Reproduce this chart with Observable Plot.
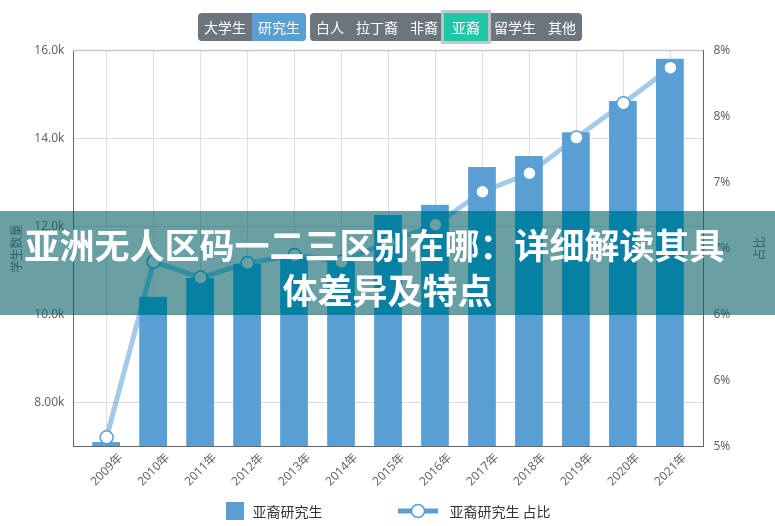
<!DOCTYPE html>
<html>
<head>
<meta charset="utf-8">
<script src="https://cdn.jsdelivr.net/npm/d3@7"></script>
<script src="https://cdn.jsdelivr.net/npm/@observablehq/plot@0.6"></script>
<style>
  html, body { margin: 0; padding: 0; background: #fff; }
  #wrap { position: relative; width: 775px; height: 526px; overflow: hidden; font-family: "Noto Sans CJK SC", "Noto Sans", sans-serif; }
  #buttons { height: 40px; position: relative; display: flex; justify-content: center; align-items: flex-start; gap: 4px; padding-top: 13px; box-sizing: border-box; padding-left: 5px; }
  .grp { display: flex; background: #6c757d; border-radius: 4px; height: 28px; }
  .btn { color: #fff; font-size: 14px; line-height: 28px; padding: 0 6px; white-space: nowrap; }
  .grp .btn:first-child { border-radius: 4px 0 0 4px; }
  .grp .btn:last-child { border-radius: 0 4px 4px 0; }
  .btn.blue { background: #5a9fd4; }
  .btn.teal { background: #1ec8a6; outline: 3px solid rgba(192,197,201,0.95); position: relative; z-index: 2; padding: 0 8px; }
  #chart svg { display: block; }
  #legend { height: 29px; display: flex; justify-content: center; align-items: center; font-size: 14px; color: #333; padding-left: 2px; padding-bottom: 2px; box-sizing: border-box; }
  .sw { width: 18px; height: 18px; background: #5a9fd4; margin-right: 8px; }
  #banner { position: absolute; left: 0; top: 211px; width: 775px; height: 104px; background: rgba(5,97,102,0.6); -webkit-backdrop-filter: saturate(2.4); backdrop-filter: saturate(2.4); color: #fff; font-family: "Noto Sans CJK SC", sans-serif; font-weight: 700; font-size: 35px; line-height: 45px; text-align: center; padding-top: 10px; box-sizing: border-box; }
  #banner .l1 { transform: translateX(-13px); }
</style>
</head>
<body>
<div id="wrap">
  <div id="buttons"></div>
  <div id="chart"></div>
  <div id="legend"></div>
  <div id="banner"></div>
</div>
<script>
// ---- data ----
const years = ["2009年","2010年","2011年","2012年","2013年","2014年","2015年","2016年","2017年","2018年","2019年","2020年","2021年"];
const students = [7090, 10390, 10820, 11140, 11280, 11270, 12250, 12480, 13340, 13590, 14130, 14840, 15800];
const sharePct = [5.07, 6.40, 6.28, 6.39, 6.45, 6.40, 6.55, 6.68, 6.93, 7.07, 7.34, 7.60, 7.87];
const leftTicks = [8000, 10000, 12000, 14000, 16000];
const rightTicks = [5, 5.5, 6, 6.5, 7, 7.5, 8];
const levelButtons = ["大学生", "研究生"];
const groupButtons = ["白人", "拉丁裔", "非裔", "亚裔", "留学生", "其他"];
const seriesName = "亚裔研究生";
const shareName = "亚裔研究生 占比";
const leftTitle = "学生数量";
const rightTitle = "占比";
const bannerLines = ["亚洲无人区码一二三区别在哪：详细解读其具", "体差异及特点"];

const yMin = 7000, yMax = 16000, pMin = 5, pMax = 8;
const toLeft = p => yMin + (p - pMin) / (pMax - pMin) * (yMax - yMin);
const fromLeft = v => pMin + (v - yMin) / (yMax - yMin) * (pMax - pMin);

const data = years.map((year, i) => ({year, students: students[i], share: toLeft(sharePct[i])}));

const blue = "#5a9fd4";

// ---- buttons ----
const btnWrap = document.getElementById("buttons");
const g1 = document.createElement("div"); g1.className = "grp";
levelButtons.forEach(t => { const b = document.createElement("div"); b.className = "btn" + (t === "研究生" ? " blue" : ""); b.textContent = t; g1.appendChild(b); });
const g2 = document.createElement("div"); g2.className = "grp";
groupButtons.forEach(t => { const b = document.createElement("div"); b.className = "btn" + (t === "亚裔" ? " teal" : ""); b.textContent = t; g2.appendChild(b); });
btnWrap.appendChild(g1); btnWrap.appendChild(g2);

// ---- chart ----
const chart = Plot.plot({
  width: 775,
  height: 457,
  marginTop: 10,
  marginBottom: 51,
  marginLeft: 73,
  marginRight: 72,
  style: {fontFamily: "'Noto Sans', 'Noto Sans CJK SC', sans-serif", fontSize: "12px", color: "#666", background: "transparent"},
  x: {type: "band", domain: years, padding: 0.41, round: false},
  y: {domain: [yMin, yMax]},
  marks: [
    Plot.gridX({stroke: "#dcdcdc", strokeOpacity: 1}),
    Plot.gridY(leftTicks, {stroke: "#dcdcdc", strokeOpacity: 1}),
    Plot.barY(data, {x: "year", y1: yMin, y2: "students", fill: blue}),
    Plot.line(data, {x: "year", y: "share", stroke: blue, strokeOpacity: 0.55, strokeWidth: 5}),
    Plot.dot(data, {x: "year", y: "share", r: 6.5, fill: "white", stroke: blue, strokeWidth: 1.5}),
    Plot.frame({stroke: "#666"}),
    Plot.ruleY([yMax], {stroke: "#c8c8c8", strokeWidth: 1.5}),
    Plot.axisY(leftTicks, {anchor: "left", tickSize: 0, tickPadding: 9, tickFormat: d3.format(".3s"), label: leftTitle, labelAnchor: "center", labelArrow: "none", labelOffset: 61, fill: "#666"}),
    Plot.axisY(rightTicks.map(toLeft), {anchor: "right", tickSize: 0, tickPadding: 10, tickFormat: v => Math.round(fromLeft(v) + 1e-9) + "%", label: rightTitle, labelAnchor: "center", labelArrow: "none", labelOffset: 60, fill: "#666"}),
    Plot.axisX({tickRotate: -45, tickSize: 0, tickPadding: 6, dx: 14, dy: 3, label: null, fill: "#666"})
  ]
});
document.getElementById("chart").appendChild(chart);

// ---- legend ----
const lg = document.getElementById("legend");
lg.innerHTML = `<div class="sw"></div><span>${seriesName}</span>
<svg width="40" height="16" style="margin-left:76px;margin-right:11px"><line x1="0" y1="8" x2="40" y2="8" stroke="${blue}" stroke-width="5"/><circle cx="20" cy="8" r="6.5" fill="white" stroke="${blue}" stroke-width="1.5"/></svg><span>${shareName}</span>`;

// ---- banner ----
const bn = document.getElementById("banner");
bannerLines.forEach((t, i) => { const d = document.createElement("div"); d.className = "l" + (i + 1); d.textContent = t; bn.appendChild(d); });
</script>
</body>
</html>
